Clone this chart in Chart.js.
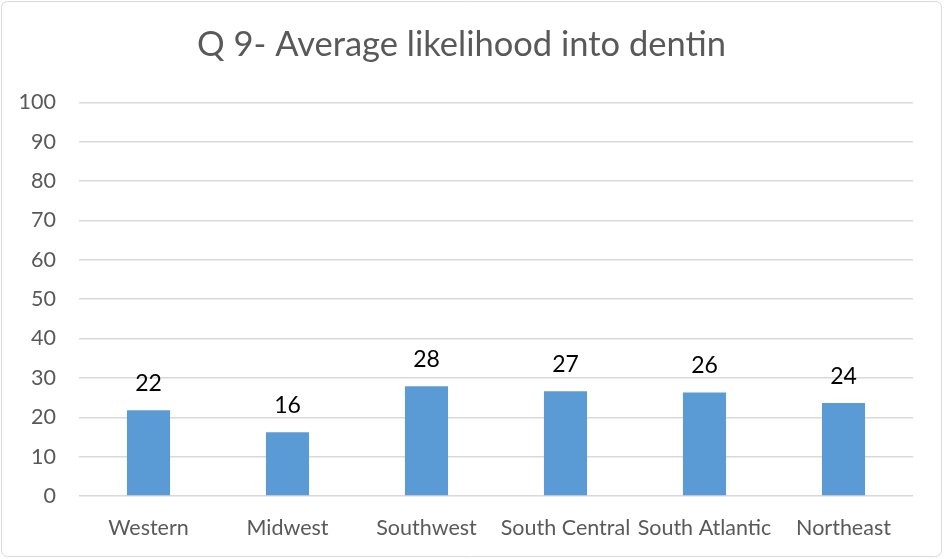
<!DOCTYPE html>
<html lang="en">
<head>
  <meta charset="UTF-8">
  <title>Q 9- Average likelihood into dentin</title>
  <script src="https://cdn.jsdelivr.net/npm/chart.js"></script>
  <style>
    html, body { margin: 0; padding: 0; background: #fff; }
    .chart-box { width: 944px; height: 559px; }
  </style>
</head>
<body>
<div class="chart-box">
  <canvas id="chart"></canvas>
</div>
<script>
const regions = ['Western', 'Midwest', 'Southwest', 'South Central', 'South Atlantic', 'Northeast'];
const likelihood = [21.8, 16.2, 27.9, 26.6, 26.3, 23.6];
const yTicks = [0, 10, 20, 30, 40, 50, 60, 70, 80, 90, 100];

const FONT = 'Lato, "Open Sans", sans-serif';

// étiquettes de valeur au-dessus des barres
const valueLabels = {
  id: 'valueLabels',
  afterDatasetsDraw(chart) {
    const ctx = chart.ctx;
    const meta = chart.getDatasetMeta(0);
    ctx.save();
    ctx.fillStyle = '#000';
    ctx.font = '23px ' + FONT;
    ctx.textAlign = 'center';
    ctx.textBaseline = 'middle';
    meta.data.forEach((bar, i) => {
      ctx.fillText(Math.round(likelihood[i]), bar.x, bar.y - 27);
    });
    ctx.restore();
  }
};

// cadre gris autour du graphique
const frame = {
  id: 'frame',
  afterDraw(chart) {
    const ctx = chart.ctx;
    ctx.save();
    ctx.strokeStyle = '#d9d9d9';
    ctx.lineWidth = 1;
    ctx.beginPath();
    ctx.roundRect(1.5, 1.5, chart.width - 4, chart.height - 4, 6);
    ctx.stroke();
    ctx.restore();
  }
};

new Chart(document.getElementById('chart'), {
  type: 'bar',
  data: {
    labels: regions,
    datasets: [{
      data: likelihood,
      backgroundColor: '#5b9bd5',
      borderWidth: 0,
      categoryPercentage: 1,
      barPercentage: 0.31
    }]
  },
  options: {
    responsive: true,
    maintainAspectRatio: false,
    animation: false,
    layout: { padding: { left: 10, right: 31, top: 0, bottom: 0 } },
    plugins: {
      legend: { display: false },
      tooltip: { enabled: false },
      title: {
        display: true,
        text: 'Q 9- Average likelihood into dentin',
        color: '#595959',
        font: { family: FONT, size: 34.5, weight: 'normal', lineHeight: 1.2 },
        padding: { top: 24, bottom: 37 }
      }
    },
    scales: {
      x: {
        grid: { display: false, drawTicks: false },
        border: { display: false },
        ticks: {
          color: '#595959',
          font: { family: FONT, size: 21.5 },
          padding: 19,
          maxRotation: 0,
          autoSkip: false
        },
        afterFit(scale) { scale.height = 63; }
      },
      y: {
        min: 0,
        max: 100,
        afterBuildTicks(scale) { scale.ticks = yTicks.map(v => ({ value: v })); },
        grid: { color: '#d9d9d9', lineWidth: 1.5, drawTicks: false },
        border: { display: false },
        ticks: {
          color: '#595959',
          font: { family: FONT, size: 21.5 },
          padding: 23
        },
        afterFit(scale) { scale.width = 69; }
      }
    }
  },
  plugins: [valueLabels, frame]
});
</script>
</body>
</html>
